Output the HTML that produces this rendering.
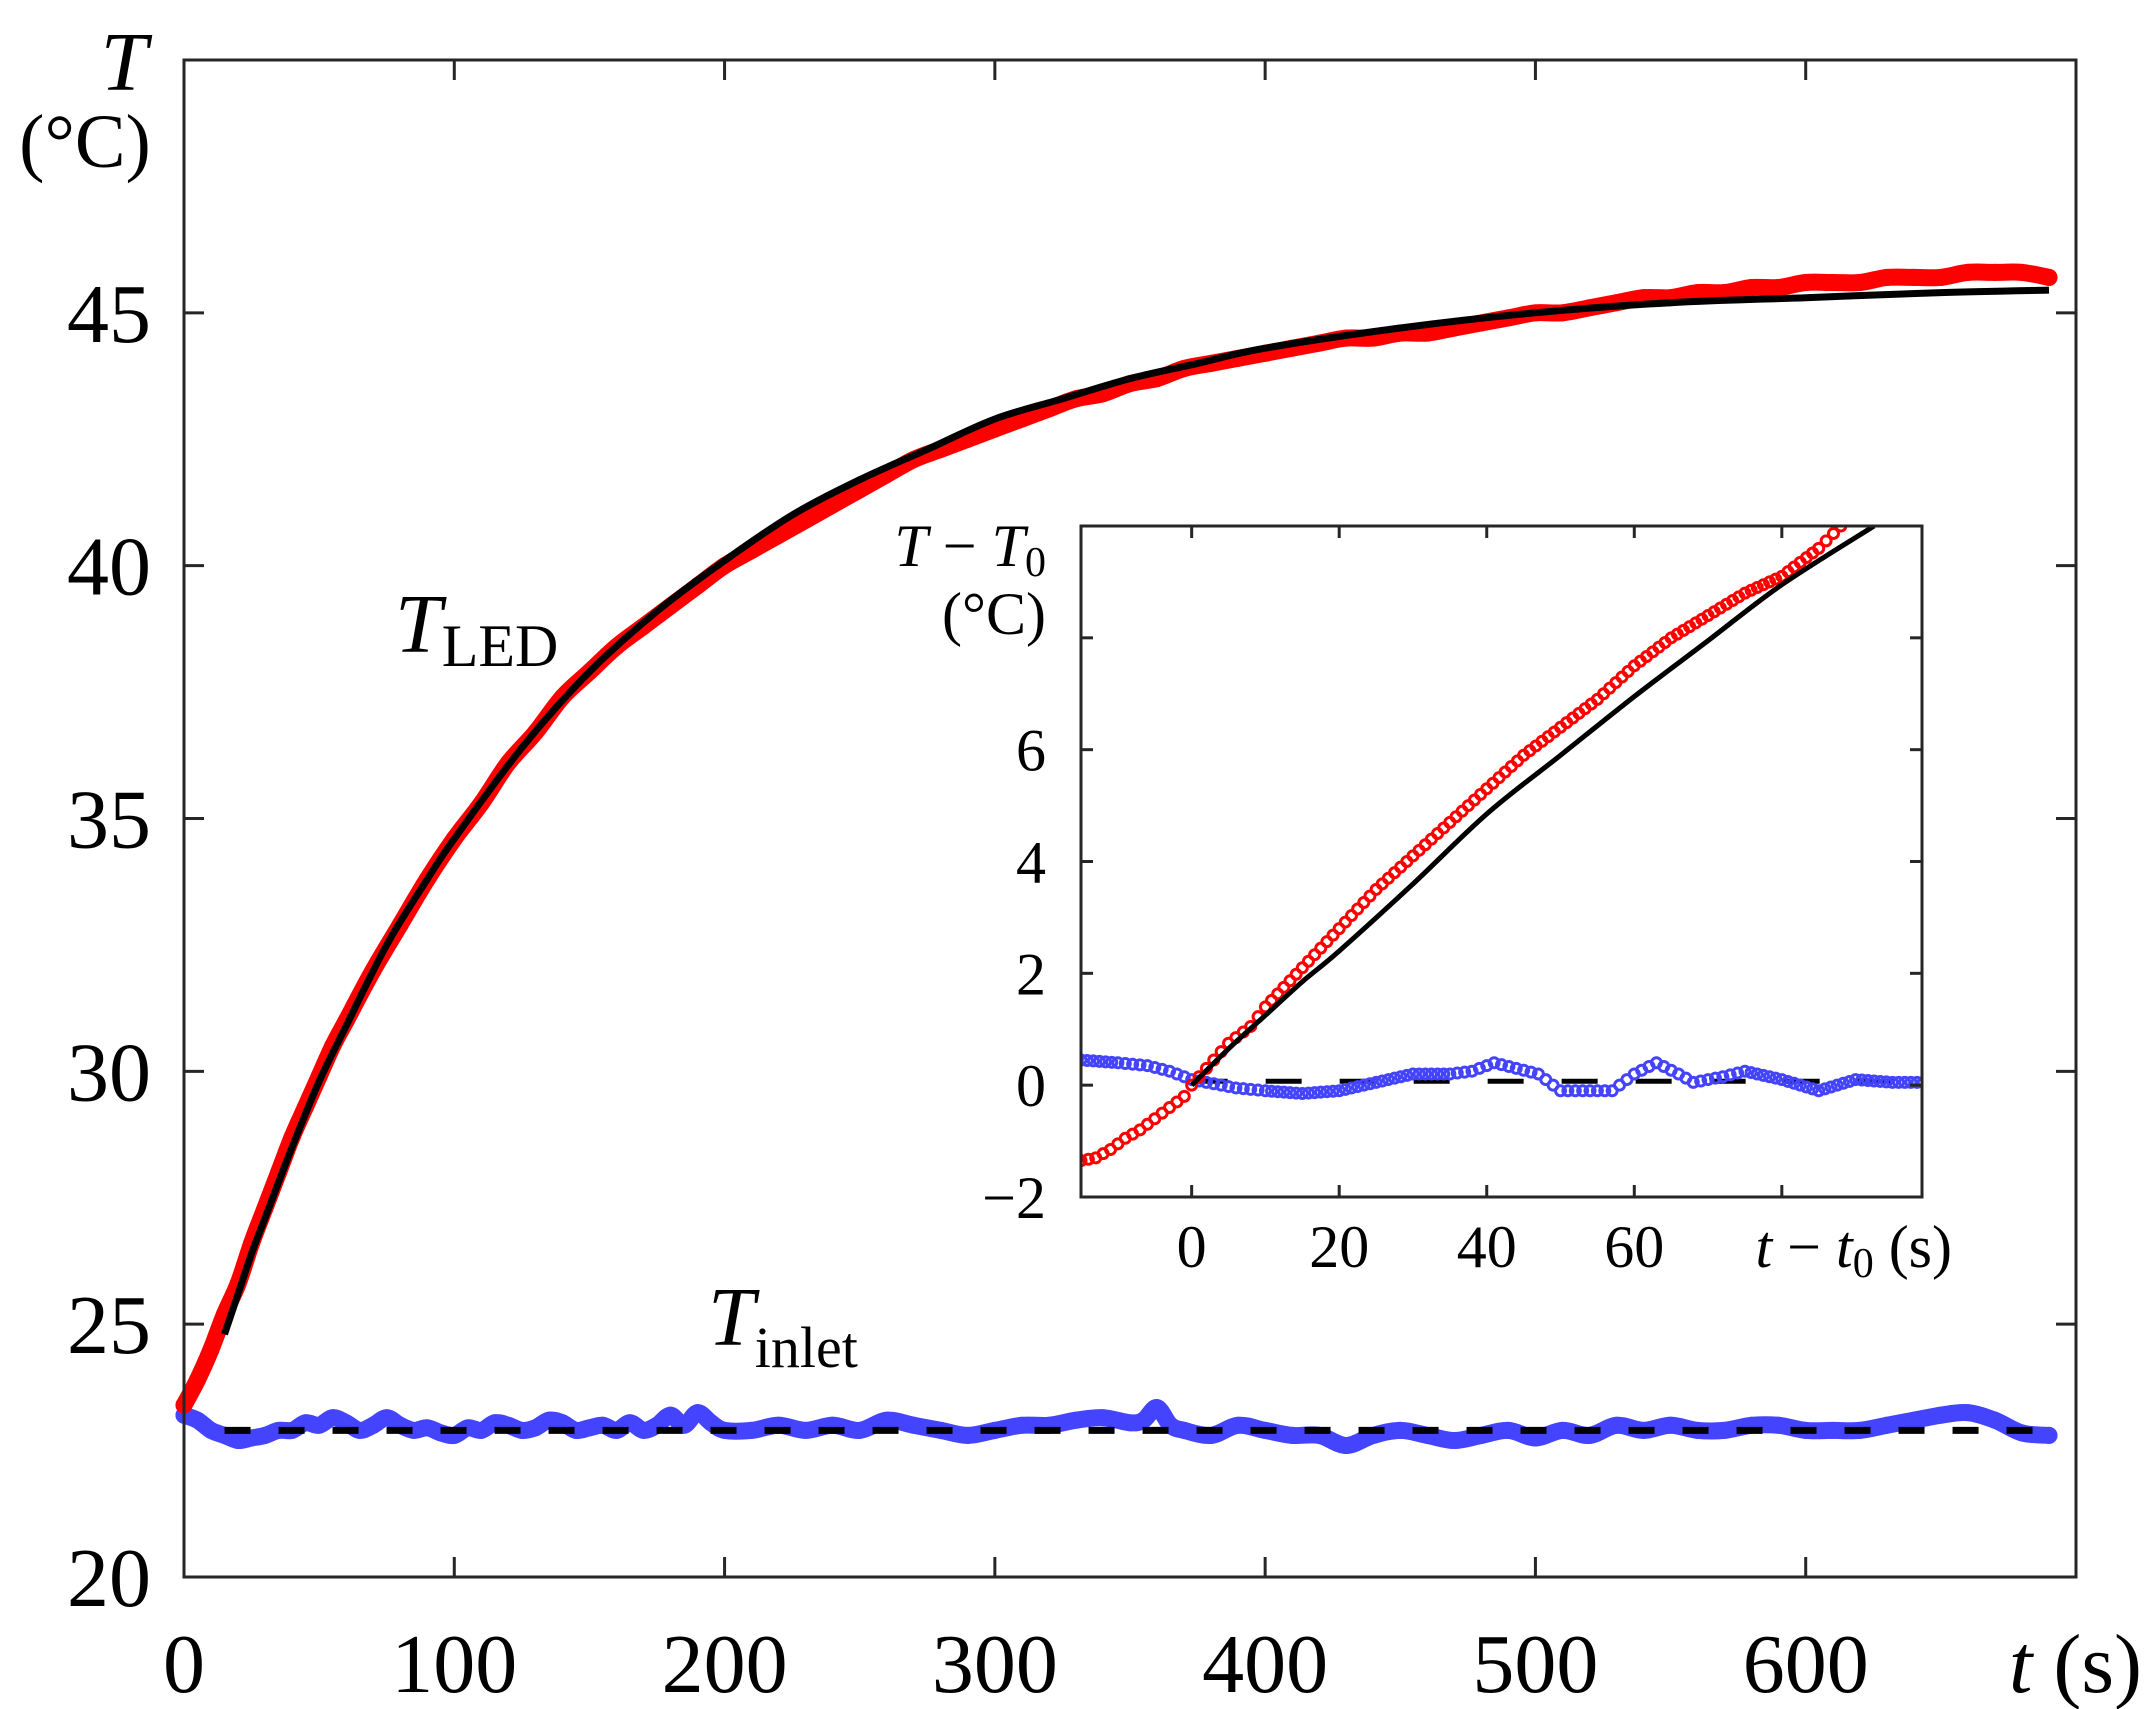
<!DOCTYPE html>
<html><head><meta charset="utf-8"><style>
html,body{margin:0;padding:0;background:#fff;}
svg{display:block;}
svg text{font-family:"Liberation Serif","Times New Roman",serif;}
</style></head><body>
<svg id="chart" width="2155" height="1709" viewBox="0 0 2155 1709"></svg>
<script>
// ---- main data ----
const mainTime = [0,5,10,15,20,25,30,35,40,45,50,55,60,70,80,90,100,110,120,130,140,150,160,170,180,190,200,210,220,230,240,250,260,270,280,290,300,310,320,330,340,350,360,370,380,390,400,410,420,430,440,450,460,470,480,490,500,510,520,530,540,550,560,570,580,590,600,610,620,630,640,650,660,670,680,690];
const ledValues = [23.4,23.9,24.5,25.2,25.8,26.6,27.3,28.0,28.7,29.3,29.9,30.5,31.0,32.0,32.9,33.8,34.6,35.3,36.1,36.7,37.4,37.9,38.4,38.8,39.2,39.6,40.0,40.3,40.6,40.9,41.2,41.5,41.8,42.1,42.3,42.5,42.7,42.9,43.1,43.3,43.4,43.6,43.7,43.9,44.0,44.1,44.2,44.3,44.4,44.5,44.5,44.6,44.6,44.7,44.8,44.9,45.0,45.0,45.1,45.2,45.3,45.3,45.4,45.4,45.5,45.5,45.6,45.6,45.6,45.7,45.7,45.7,45.8,45.8,45.8,45.7];
const inletTime = [0,5,10,15,20,25,30,35,40,45,50,55,60,65,70,75,80,85,90,95,100,105,110,115,120,125,130,135,140,145,150,155,160,165,170,175,180,185,190,195,200,210,220,230,240,250,260,270,280,290,300,310,320,330,340,350,355,360,365,370,380,390,400,410,420,430,440,450,460,470,480,490,500,510,520,530,540,550,560,570,580,590,600,610,620,630,640,650,660,670,680,690];
const inletValues = [23.2,23.1,22.9,22.8,22.7,22.75,22.8,22.9,22.9,23.05,23.0,23.15,23.05,22.9,23.0,23.15,23.0,22.9,22.95,22.85,22.8,22.95,22.9,23.05,23.0,22.9,22.95,23.1,23.05,22.9,22.95,23.0,22.9,23.05,22.9,23.0,23.2,23.0,23.25,23.05,22.9,22.9,23.0,22.9,23.0,22.9,23.1,23.0,22.9,22.8,22.9,23.0,23.0,23.1,23.15,23.05,23.1,23.35,23.0,22.9,22.8,23.0,22.9,22.8,22.8,22.6,22.8,22.9,22.8,22.7,22.8,22.9,22.75,22.9,22.8,23.0,22.9,23.0,22.9,22.9,23.0,23.0,22.9,22.9,22.9,23.0,23.1,23.2,23.25,23.1,22.85,22.8];
const fitTime = [15,20,25,30,40,50,60,75,90,100,125,150,175,200,225,250,275,300,325,350,375,400,450,500,550,600,650,690];
const fitValues = [24.8,25.6,26.4,27.1,28.5,29.8,30.9,32.5,33.8,34.6,36.4,37.9,39.1,40.1,41.0,41.7,42.3,42.9,43.3,43.7,44.0,44.3,44.7,45.0,45.2,45.3,45.4,45.45];
const inletMean = 22.9;
const xTicks = [0,100,200,300,400,500,600];
const yTicks = [20,25,30,35,40,45];
// ---- inset data ----
const insetLedTime = [-15,-13,-11,-9,-7,-5,-3,-1,0,2,5,8,10,15,20,25,30,35,40,45,50,55,60,65,70,75,80,85,88];
const insetLedValues = [-1.35,-1.3,-1.15,-0.95,-0.8,-0.6,-0.4,-0.2,0,0.3,0.75,1.05,1.4,2.1,2.8,3.5,4.1,4.7,5.3,5.9,6.4,6.9,7.5,8.0,8.4,8.8,9.1,9.6,10.0];
const insetFitTime = [0,5,10,15,20,30,40,50,60,70,80,92.5];
const insetFitValues = [0,0.65,1.25,1.85,2.4,3.6,4.85,5.9,6.95,7.95,8.95,10.0];
const insetInletTime = [-15,-10,-6,-3,0,2,6,10,15,20,25,30,35,38,41,44,47,50,53,57,60,63,66,68,72,75,80,85,90,95,100];
const insetInletValues = [0.45,0.4,0.35,0.25,0.1,0.05,-0.05,-0.1,-0.15,-0.1,0.05,0.2,0.2,0.25,0.4,0.3,0.2,-0.1,-0.1,-0.1,0.2,0.4,0.2,0.05,0.15,0.25,0.1,-0.1,0.1,0.05,0.05];
const insetMean = 0.07;
const insetXTicks = [0,20,40,60,80];
const insetXLabels = ["0","20","40","60",""];
const insetYTicks = [-2,0,2,4,6,8,10];
const insetYLabels = ["\u22122","0","2","4","6","",""];

const NS="http://www.w3.org/2000/svg";
const svg=document.getElementById('chart');
function mk(tag,attrs,parent){const e=document.createElementNS(NS,tag);for(const k in attrs)e.setAttribute(k,attrs[k]);(parent||svg).appendChild(e);return e;}

const M={l:184,r:2076,t:60,b:1577,x0:0,x1:700,y0:20,y1:50};
const mx=v=>M.l+(v-M.x0)/(M.x1-M.x0)*(M.r-M.l);
const my=v=>M.b-(v-M.y0)/(M.y1-M.y0)*(M.b-M.t);
const I={l:1081,r:1922,t:526,b:1197,x0:-15,x1:99,y0:-2,y1:10};
const ix=v=>I.l+(v-I.x0)/(I.x1-I.x0)*(I.r-I.l);
const iy=v=>I.b-(v-I.y0)/(I.y1-I.y0)*(I.b-I.t);

// smooth path (Catmull-Rom) through data
function smooth(xs,ys,fx,fy){const P=xs.map((x,i)=>[fx(x),fy(ys[i])]);let d='M'+P[0][0].toFixed(1)+','+P[0][1].toFixed(1);
for(let i=0;i<P.length-1;i++){const p0=P[Math.max(0,i-1)],p1=P[i],p2=P[i+1],p3=P[Math.min(P.length-1,i+2)];
const c1=[p1[0]+(p2[0]-p0[0])/6,p1[1]+(p2[1]-p0[1])/6],c2=[p2[0]-(p3[0]-p1[0])/6,p2[1]-(p3[1]-p1[1])/6];
d+=' C'+c1.map(v=>v.toFixed(1)).join(',')+' '+c2.map(v=>v.toFixed(1)).join(',')+' '+p2[0].toFixed(1)+','+p2[1].toFixed(1);}return d;}

const gMain=mk('g',{});



let inletBand=mk('path',{d:smooth(inletTime,inletValues,mx,my),fill:'none',stroke:'#4444ff','stroke-width':17,'stroke-linejoin':'round','stroke-linecap':'round'},gMain);


inletTime.forEach((t,i)=>{const c=mk('circle',{cx:mx(t),cy:my(inletValues[i]),r:7,fill:'none',stroke:'#4444ff','stroke-width':3},gMain);

});

let ledBand=mk('path',{d:smooth(mainTime,ledValues,mx,my),fill:'none',stroke:'#ff0000','stroke-width':17,'stroke-linejoin':'round','stroke-linecap':'round'},gMain);


mainTime.forEach((t,i)=>{const c=mk('circle',{cx:mx(t),cy:my(ledValues[i]),r:7,fill:'none',stroke:'#ff0000','stroke-width':3},gMain);

});

let fit=mk('path',{d:smooth(fitTime,fitValues,mx,my),fill:'none',stroke:'#000','stroke-width':7},gMain);


let mean=mk('line',{x1:mx(15),x2:mx(690),y1:my(inletMean),y2:my(inletMean),stroke:'#000','stroke-width':7,'stroke-dasharray':'26 28'},gMain);



let fr=mk('rect',{x:M.l,y:M.t,width:M.r-M.l,height:M.b-M.t,fill:'none',stroke:'#262626','stroke-width':3});


xTicks.forEach(v=>{const X=mx(v);
mk('line',{x1:X,x2:X,y1:M.b,y2:M.b-20,stroke:'#262626','stroke-width':3});
mk('line',{x1:X,x2:X,y1:M.t,y2:M.t+20,stroke:'#262626','stroke-width':3});
const t=mk('text',{x:X,y:1692,'font-size':84,'text-anchor':'middle',fill:'#000'});t.textContent=v;

});
yTicks.forEach(v=>{const Y=my(v);
mk('line',{x1:M.l,x2:M.l+20,y1:Y,y2:Y,stroke:'#262626','stroke-width':3});
mk('line',{x1:M.r,x2:M.r-20,y1:Y,y2:Y,stroke:'#262626','stroke-width':3});
const t=mk('text',{x:151,y:Y+29,'font-size':84,'text-anchor':'end',fill:'#000'});t.textContent=v;

});

let xt=mk('text',{x:2142,y:1692,'font-size':84,'text-anchor':'end'});
xt.innerHTML='<tspan font-style="italic">t</tspan> (s)';


let yt1=mk('text',{x:124,y:90,'font-size':84,'text-anchor':'middle','font-style':'italic'});yt1.textContent='T';


let yt2=mk('text',{x:85,y:167,'font-size':76,'text-anchor':'middle'});yt2.textContent='(°C)';


let l1=mk('text',{x:395,y:652,'font-size':84});
l1.innerHTML='<tspan font-style="italic">T</tspan><tspan font-size="60" dy="14">LED</tspan>';


let l2=mk('text',{x:708,y:1345,'font-size':84});
l2.innerHTML='<tspan font-style="italic">T</tspan><tspan font-size="58" dy="22">inlet</tspan>';



// --- inset ---
const gIn=mk('g',{});


let bg=mk('rect',{x:I.l,y:I.t,width:I.r-I.l,height:I.b-I.t,fill:'#fff'},gIn);


const clip=mk('clipPath',{id:'ic'});mk('rect',{x:I.l,y:I.t,width:I.r-I.l,height:I.b-I.t},clip);
const gc=mk('g',{'clip-path':'url(#ic)'},gIn);
let im=mk('line',{x1:ix(0),x2:ix(99),y1:iy(insetMean),y2:iy(insetMean),stroke:'#000','stroke-width':5,'stroke-dasharray':'36 38'},gc);


function markers(xs,ys,color,name){for(let i=0;i<xs.length-1;i++){const n=Math.max(1,Math.round((xs[i+1]-xs[i])/0.9));for(let k=0;k<n;k++){const f=k/n;const x=xs[i]+(xs[i+1]-xs[i])*f,y=ys[i]+(ys[i+1]-ys[i])*f;
const c=mk('circle',{cx:ix(x),cy:iy(y),r:5,fill:'none',stroke:color,'stroke-width':3},gc);

}}
const j=xs.length-1;const c=mk('circle',{cx:ix(xs[j]),cy:iy(ys[j]),r:5,fill:'none',stroke:color,'stroke-width':3},gc);

}
markers(insetInletTime,insetInletValues,'#4444ff','inset-inlet-point');
markers(insetLedTime,insetLedValues,'#ff0000','inset-led-point');
let ifit=mk('path',{d:smooth(insetFitTime,insetFitValues,ix,iy),fill:'none',stroke:'#000','stroke-width':5},gc);


let ifr=mk('rect',{x:I.l,y:I.t,width:I.r-I.l,height:I.b-I.t,fill:'none',stroke:'#262626','stroke-width':3},gIn);


insetXTicks.forEach((v,i)=>{const X=ix(v);
mk('line',{x1:X,x2:X,y1:I.b,y2:I.b-12,stroke:'#262626','stroke-width':3},gIn);
mk('line',{x1:X,x2:X,y1:I.t,y2:I.t+12,stroke:'#262626','stroke-width':3},gIn);
if(insetXLabels[i]){const t=mk('text',{x:X,y:1267,'font-size':60,'text-anchor':'middle'},gIn);t.textContent=insetXLabels[i];

}});
insetYTicks.forEach((v,i)=>{const Y=iy(v);
mk('line',{x1:I.l,x2:I.l+12,y1:Y,y2:Y,stroke:'#262626','stroke-width':3},gIn);
mk('line',{x1:I.r,x2:I.r-12,y1:Y,y2:Y,stroke:'#262626','stroke-width':3},gIn);
if(insetYLabels[i]){const t=mk('text',{x:1046,y:Y+21,'font-size':60,'text-anchor':'end'},gIn);t.textContent=insetYLabels[i];

}});
let ixt=mk('text',{x:1952,y:1267,'font-size':60,'text-anchor':'end'},gIn);
ixt.innerHTML='<tspan font-style="italic">t</tspan> − <tspan font-style="italic">t</tspan><tspan font-size="42" dy="10">0</tspan><tspan dy="-10"> (s)</tspan>';


let iyt=mk('text',{x:1046,y:566,'font-size':60,'text-anchor':'end'},gIn);
iyt.innerHTML='<tspan font-style="italic">T</tspan> − <tspan font-style="italic">T</tspan><tspan font-size="42" dy="10">0</tspan>';


let iyu=mk('text',{x:1046,y:634,'font-size':60,'text-anchor':'end'},gIn);iyu.textContent='(°C)';


</script>
</body></html>
